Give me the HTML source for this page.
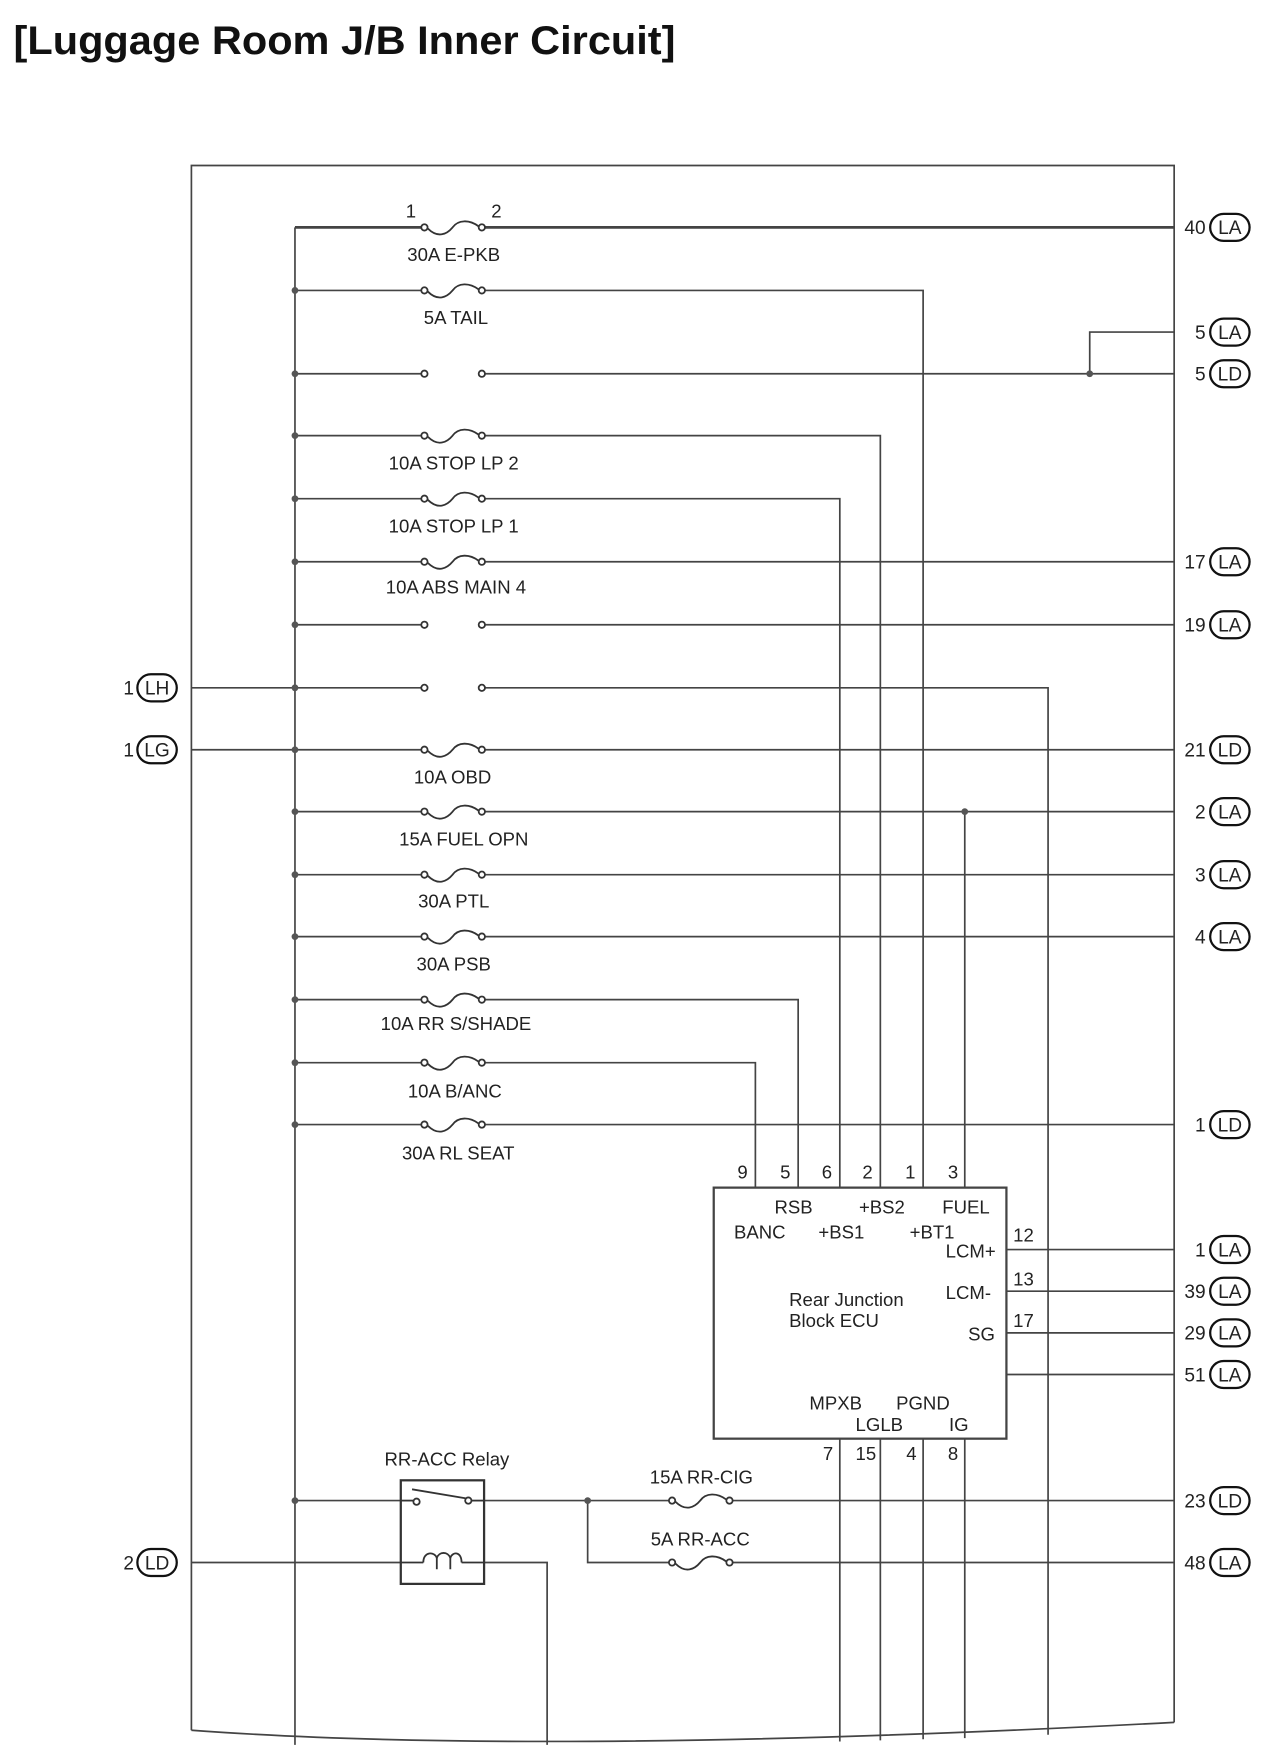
<!DOCTYPE html>
<html><head><meta charset="utf-8"><style>
html,body{margin:0;padding:0;background:#fff;}
svg{display:block;}
text{font-family:"Liberation Sans",Arial,sans-serif;fill:#222;}
</style></head><body>
<svg width="1280" height="1764" viewBox="0 0 1137 1567" xmlns="http://www.w3.org/2000/svg">
<defs>
<g id="fuse" fill="none" stroke="#333" stroke-width="1.6">
<circle cx="0" cy="0" r="2.8" fill="#fff"/><circle cx="51" cy="0" r="2.8" fill="#fff"/>
<path d="M3 1 C12 10 20 6 25 0 C30 -7 40 -7 48 -1"/>
</g>
<g id="brk" fill="#fff" stroke="#333" stroke-width="1.6">
<circle cx="0" cy="0" r="2.8"/><circle cx="51" cy="0" r="2.8"/>
</g>
</defs>
<text x="12" y="48" font-size="35" font-weight="bold" textLength="588" lengthAdjust="spacingAndGlyphs" style="fill:#111">[Luggage Room J/B Inner Circuit]</text>
<g stroke="#444" stroke-width="1.5" fill="none">
<path d="M170 1537 L170 147 L1043 147 L1043 1530"/>
<path d="M170 1537 Q480 1560 1043 1530"/>
<line x1="262" y1="202" x2="262" y2="1550"/>
<line x1="262" y1="202" x2="377" y2="202" stroke-width="2.5"/><line x1="428" y1="202" x2="1043" y2="202" stroke-width="2.5"/>
<line x1="262" y1="258" x2="377" y2="258"/><polyline points="428,258 820,258 820,1545"/>
<line x1="262" y1="332" x2="377" y2="332"/><line x1="428" y1="332" x2="1043" y2="332"/>
<polyline points="968,332 968,295 1043,295"/>
<line x1="262" y1="387" x2="377" y2="387"/><polyline points="428,387 782,387 782,1546"/>
<line x1="262" y1="443" x2="377" y2="443"/><polyline points="428,443 746,443 746,1547"/>
<line x1="262" y1="499" x2="377" y2="499"/><line x1="428" y1="499" x2="1043" y2="499"/>
<line x1="262" y1="555" x2="377" y2="555"/><line x1="428" y1="555" x2="1043" y2="555"/>
<line x1="170" y1="611" x2="377" y2="611"/><polyline points="428,611 931,611 931,1541"/>
<line x1="170" y1="666" x2="377" y2="666"/><line x1="428" y1="666" x2="1043" y2="666"/>
<line x1="262" y1="721" x2="377" y2="721"/><line x1="428" y1="721" x2="1043" y2="721"/>
<line x1="857" y1="721" x2="857" y2="1544"/>
<line x1="262" y1="777" x2="377" y2="777"/><line x1="428" y1="777" x2="1043" y2="777"/>
<line x1="262" y1="832" x2="377" y2="832"/><line x1="428" y1="832" x2="1043" y2="832"/>
<line x1="262" y1="888" x2="377" y2="888"/><polyline points="428,888 709,888 709,1055"/>
<line x1="262" y1="944" x2="377" y2="944"/><polyline points="428,944 671,944 671,1055"/>
<line x1="262" y1="999" x2="377" y2="999"/><line x1="428" y1="999" x2="1043" y2="999"/>
<line x1="894" y1="1110" x2="1043" y2="1110"/>
<line x1="894" y1="1147" x2="1043" y2="1147"/>
<line x1="894" y1="1184" x2="1043" y2="1184"/>
<line x1="894" y1="1221" x2="1043" y2="1221"/>
<line x1="262" y1="1333" x2="356" y2="1333"/><line x1="430" y1="1333" x2="597" y2="1333"/>
<line x1="648" y1="1333" x2="1043" y2="1333"/>
<polyline points="522,1333 522,1388 597,1388"/><line x1="648" y1="1388" x2="1043" y2="1388"/>
<line x1="170" y1="1388" x2="356" y2="1388"/>
<polyline points="430,1388 486,1388 486,1550"/>
</g>
<rect x="634" y="1055" width="260" height="223" fill="#fff" stroke="#444" stroke-width="2"/>
<use href="#fuse" x="377" y="202"/>
<use href="#fuse" x="377" y="258"/>
<use href="#brk" x="377" y="332"/>
<use href="#fuse" x="377" y="387"/>
<use href="#fuse" x="377" y="443"/>
<use href="#fuse" x="377" y="499"/>
<use href="#brk" x="377" y="555"/>
<use href="#brk" x="377" y="611"/>
<use href="#fuse" x="377" y="666"/>
<use href="#fuse" x="377" y="721"/>
<use href="#fuse" x="377" y="777"/>
<use href="#fuse" x="377" y="832"/>
<use href="#fuse" x="377" y="888"/>
<use href="#fuse" x="377" y="944"/>
<use href="#fuse" x="377" y="999"/>
<use href="#fuse" x="597" y="1333"/>
<use href="#fuse" x="597" y="1388"/>
<g fill="#555">
<circle cx="262" cy="258" r="3"/><circle cx="262" cy="332" r="3"/><circle cx="262" cy="387" r="3"/>
<circle cx="262" cy="443" r="3"/><circle cx="262" cy="499" r="3"/><circle cx="262" cy="555" r="3"/>
<circle cx="262" cy="611" r="3"/><circle cx="262" cy="666" r="3"/><circle cx="262" cy="721" r="3"/>
<circle cx="262" cy="777" r="3"/><circle cx="262" cy="832" r="3"/><circle cx="262" cy="888" r="3"/>
<circle cx="262" cy="944" r="3"/><circle cx="262" cy="999" r="3"/><circle cx="262" cy="1333" r="3"/>
<circle cx="968" cy="332" r="3"/><circle cx="857" cy="721" r="3"/><circle cx="522" cy="1333" r="3"/>
</g>
<rect x="356" y="1315" width="74" height="92" fill="#fff" stroke="#333" stroke-width="2"/>
<g fill="none" stroke="#333" stroke-width="1.6">
<line x1="356" y1="1333" x2="368" y2="1333"/><line x1="418" y1="1333" x2="430" y2="1333"/>
<circle cx="370" cy="1334" r="2.8" fill="#fff"/><circle cx="416" cy="1333" r="2.8" fill="#fff"/>
<line x1="366" y1="1323" x2="414" y2="1331"/>
<line x1="356" y1="1388" x2="376" y2="1388"/><line x1="410" y1="1388" x2="430" y2="1388"/>
<path d="M376 1388 C376 1378 386 1378 388 1384 C390 1378 398 1378 400 1384 C402 1378 410 1378 410 1388"/>
<line x1="388" y1="1384" x2="388" y2="1394"/><line x1="400" y1="1384" x2="400" y2="1394"/>
</g>
<g font-size="16.5" text-anchor="middle">
<text x="403" y="232">30A E-PKB</text>
<text x="405" y="288">5A TAIL</text>
<text x="403" y="417">10A STOP LP 2</text>
<text x="403" y="473">10A STOP LP 1</text>
<text x="405" y="527">10A ABS MAIN 4</text>
<text x="402" y="696">10A OBD</text>
<text x="412" y="751">15A FUEL OPN</text>
<text x="403" y="806">30A PTL</text>
<text x="403" y="862">30A PSB</text>
<text x="405" y="915">10A RR S/SHADE</text>
<text x="404" y="975">10A B/ANC</text>
<text x="407" y="1030">30A RL SEAT</text>
<text x="397" y="1302">RR-ACC Relay</text>
<text x="623" y="1318">15A RR-CIG</text>
<text x="622" y="1373">5A RR-ACC</text>
<text x="365" y="193">1</text><text x="441" y="193">2</text>
</g>
<g font-size="16.5">
<text x="655" y="1047">9</text><text x="693" y="1047">5</text><text x="730" y="1047">6</text>
<text x="766" y="1047">2</text><text x="804" y="1047">1</text><text x="842" y="1047">3</text>
<text x="688" y="1078">RSB</text><text x="763" y="1078">+BS2</text><text x="837" y="1078">FUEL</text>
<text x="652" y="1100">BANC</text><text x="727" y="1100">+BS1</text><text x="808" y="1100">+BT1</text>
<text x="840" y="1117">LCM+</text><text x="840" y="1154">LCM-</text><text x="860" y="1191">SG</text>
<text x="900" y="1103">12</text><text x="900" y="1142">13</text><text x="900" y="1179">17</text>
<text x="701" y="1160">Rear Junction</text><text x="701" y="1179">Block ECU</text>
<text x="719" y="1252">MPXB</text><text x="796" y="1252">PGND</text>
<text x="760" y="1271">LGLB</text><text x="843" y="1271">IG</text>
<text x="731" y="1297">7</text><text x="760" y="1297">15</text><text x="805" y="1297">4</text><text x="842" y="1297">8</text>
</g>
<g font-size="17" text-anchor="end">
<text x="1071" y="208">40</text><text x="1071" y="301">5</text><text x="1071" y="338">5</text>
<text x="1071" y="505">17</text><text x="1071" y="561">19</text><text x="1071" y="672">21</text>
<text x="1071" y="727">2</text><text x="1071" y="783">3</text><text x="1071" y="838">4</text>
<text x="1071" y="1005">1</text><text x="1071" y="1116">1</text><text x="1071" y="1153">39</text>
<text x="1071" y="1190">29</text><text x="1071" y="1227">51</text><text x="1071" y="1339">23</text>
<text x="1071" y="1394">48</text>
<text x="119" y="617">1</text><text x="119" y="672">1</text><text x="119" y="1394">2</text>
</g>
<g fill="#fff" stroke="#111" stroke-width="2">
<rect x="1075" y="190" width="35" height="24" rx="12"/><rect x="1075" y="283" width="35" height="24" rx="12"/>
<rect x="1075" y="320" width="35" height="24" rx="12"/><rect x="1075" y="487" width="35" height="24" rx="12"/>
<rect x="1075" y="543" width="35" height="24" rx="12"/><rect x="1075" y="654" width="35" height="24" rx="12"/>
<rect x="1075" y="709" width="35" height="24" rx="12"/><rect x="1075" y="765" width="35" height="24" rx="12"/>
<rect x="1075" y="820" width="35" height="24" rx="12"/><rect x="1075" y="987" width="35" height="24" rx="12"/>
<rect x="1075" y="1098" width="35" height="24" rx="12"/><rect x="1075" y="1135" width="35" height="24" rx="12"/>
<rect x="1075" y="1172" width="35" height="24" rx="12"/><rect x="1075" y="1209" width="35" height="24" rx="12"/>
<rect x="1075" y="1321" width="35" height="24" rx="12"/><rect x="1075" y="1376" width="35" height="24" rx="12"/>
<rect x="122" y="599" width="35" height="24" rx="12"/><rect x="122" y="654" width="35" height="24" rx="12"/>
<rect x="122" y="1376" width="35" height="24" rx="12"/>
</g>
<g font-size="17" text-anchor="middle">
<text x="1092.5" y="208">LA</text><text x="1092.5" y="301">LA</text><text x="1092.5" y="338">LD</text>
<text x="1092.5" y="505">LA</text><text x="1092.5" y="561">LA</text><text x="1092.5" y="672">LD</text>
<text x="1092.5" y="727">LA</text><text x="1092.5" y="783">LA</text><text x="1092.5" y="838">LA</text>
<text x="1092.5" y="1005">LD</text><text x="1092.5" y="1116">LA</text><text x="1092.5" y="1153">LA</text>
<text x="1092.5" y="1190">LA</text><text x="1092.5" y="1227">LA</text><text x="1092.5" y="1339">LD</text>
<text x="1092.5" y="1394">LA</text>
<text x="139.5" y="617">LH</text><text x="139.5" y="672">LG</text><text x="139.5" y="1394">LD</text>
</g>
</svg>
</body></html>
